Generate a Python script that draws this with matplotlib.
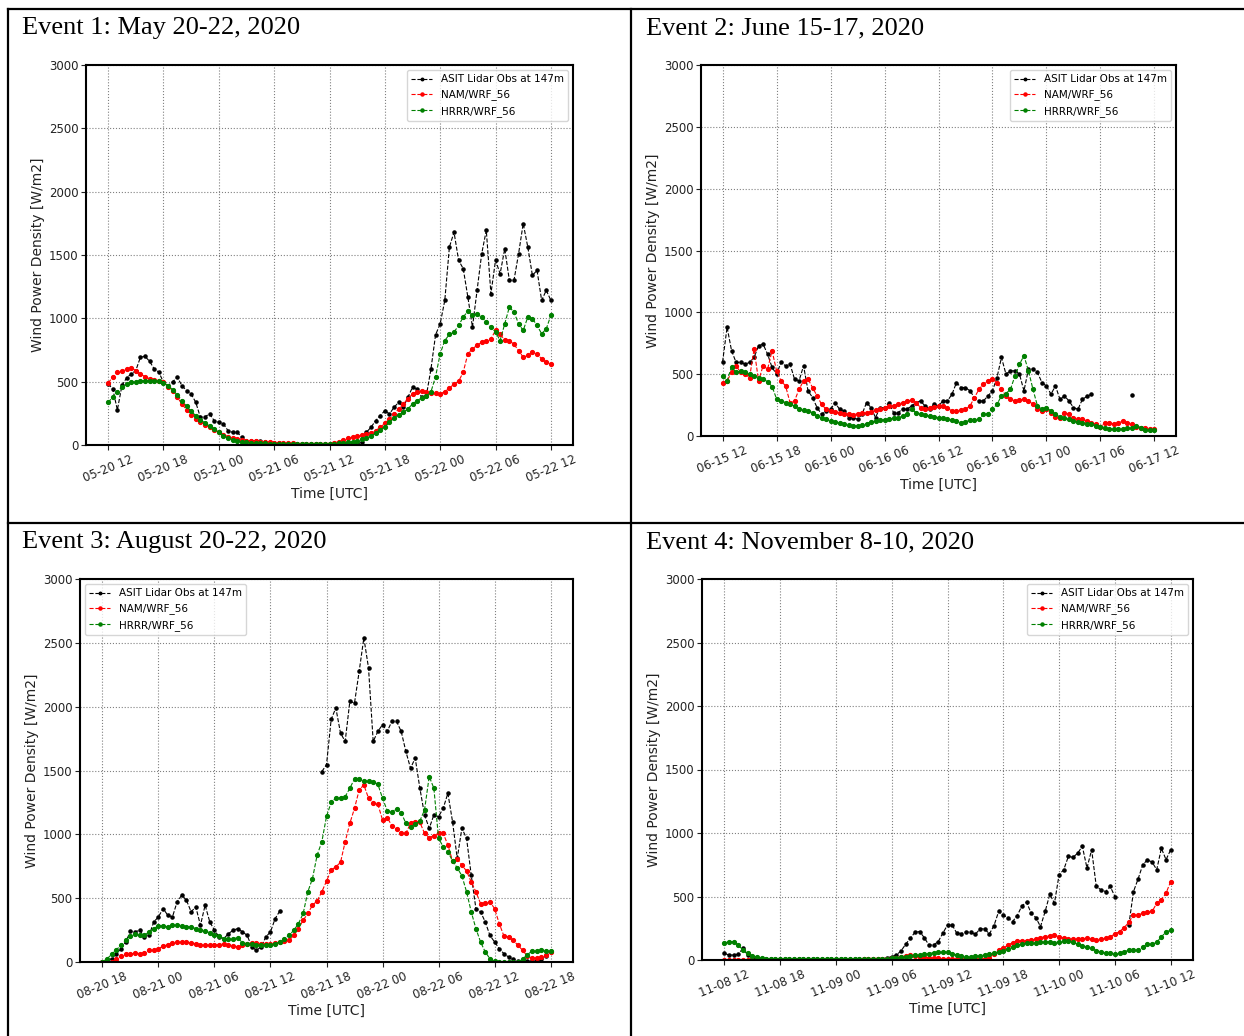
import numpy as np
import pandas as pd
import matplotlib
matplotlib.use("Agg")
import matplotlib.pyplot as plt
import matplotlib.dates as mdates
from matplotlib.lines import Line2D

nan = float("nan")

# ---------------- data (30-min resolution, 0h .. 48h) ----------------
event_titles = ["Event 1: May 20-22, 2020", "Event 2: June 15-17, 2020",
                "Event 3: August 20-22, 2020", "Event 4: November 8-10, 2020"]
event_starts = ["2020-05-20 12:00", "2020-06-15 12:00", "2020-08-20 18:00", "2020-11-08 12:00"]
series_labels = ["ASIT Lidar Obs at 147m", "NAM/WRF_56", "HRRR/WRF_56"]

e1_obs = [483, 443, 277, 470, 530, 561, 588, 693, 700, 660, 600, 575,
          495, 469, 500, 535, 469, 430, 403, 337, 219, 224, 245, 192,
          179, 166, 113, 100, 100, 61, 34, 34, 34, 28, 21, 18,
          14, 12, 10, 10, 9, 9, 8, 8, 8, 8, 8, 8,
          8, 8, 8, 8, 8, 10, 10, 20, 100, 140, 192, 232,
          271, 245, 298, 337, 298, 377, 456, 443, 377, 390, 600, 870,
          957, 1142, 1563, 1680, 1458, 1392, 1168, 931, 1221, 1510, 1695, 1194,
          1458, 1352, 1550, 1300, 1300, 1510, 1748, 1563, 1339, 1379, 1142, 1221,
          1142]
e1_nam = [490, 535, 575, 583, 600, 610, 588, 560, 540, 522, 510, 503,
          495, 461, 430, 377, 324, 277, 237, 205, 180, 158, 140, 119,
          100, 82, 66, 53, 45, 37, 34, 31, 29, 26, 24, 21,
          18, 16, 14, 13, 12, 11, 10, 10, 10, 10, 10, 10,
          10, 16, 26, 40, 53, 60, 68, 76, 87, 98, 113, 140,
          171, 205, 245, 285, 324, 364, 403, 422, 424, 417, 411, 409,
          403, 422, 448, 482, 503, 575, 720, 760, 786, 812, 825, 838,
          904, 873, 831, 825, 794, 746, 693, 707, 733, 720, 680, 654,
          641]
e1_hrrr = [337, 377, 422, 456, 482, 496, 501, 506, 509, 509, 509, 504,
           493, 469, 435, 395, 351, 306, 266, 232, 200, 174, 150, 127,
           100, 74, 53, 40, 29, 24, 21, 18, 16, 14, 13, 11,
           8, 8, 8, 8, 8, 8, 8, 8, 8, 8, 8, 8,
           8, 9, 12, 16, 21, 27, 34, 44, 55, 71, 92, 119,
           145, 179, 213, 240, 258, 285, 324, 350, 372, 383, 420, 540,
           720, 825, 873, 891, 944, 1010, 1057, 1023, 1031, 1010, 970, 931,
           891, 825, 957, 1089, 1049, 957, 904, 1010, 997, 944, 878, 917,
           1023]

e2_obs = [600, 880, 689, 595, 595, 581, 595, 635, 730, 743, 662, 554,
          500, 595, 568, 581, 459, 446, 568, 365, 311, 230, 176, 203,
          216, 270, 216, 203, 149, 149, 135, 176, 270, 230, 149, 230,
          230, 270, 189, 189, 216, 216, 243, 270, 284, 243, 216, 257,
          243, 284, 284, 338, 432, 392, 392, 365, 311, 284, 284, 324,
          365, 473, 635, 500, 527, 527, 500, 365, 541, 541, 514, 432,
          405, 338, 405, 297, 324, 284, 230, 216, 297, 320, 338, nan,
          nan, nan, nan, nan, nan, nan, nan, 330, nan, nan, nan, nan,
          nan]
e2_nam = [432, 446, 514, 568, 514, 500, 473, 703, 446, 568, 541, 689,
          527, 446, 405, 270, 284, 378, 446, 459, 392, 324, 257, 216,
          203, 197, 189, 181, 176, 170, 181, 189, 189, 195, 208, 222,
          230, 243, 243, 257, 270, 284, 289, 270, 230, 216, 224, 235,
          243, 243, 224, 203, 203, 208, 216, 243, 311, 378, 419, 446,
          459, 432, 378, 324, 297, 284, 289, 297, 284, 257, 216, 203,
          216, 189, 154, 143, 189, 176, 149, 135, 135, 122, 108, 95,
          76, 108, 108, 95, 108, 122, 108, 95, 73, 68, 62, 54,
          54]
e2_hrrr = [486, 446, 560, 514, 527, 514, 500, 486, 473, 459, 440, 400,
           300, 285, 270, 257, 243, 222, 208, 203, 189, 162, 149, 135,
           122, 116, 103, 95, 86, 81, 81, 89, 100, 114, 122, 127,
           132, 138, 143, 149, 159, 176, 216, 189, 176, 168, 159, 154,
           149, 143, 135, 127, 122, 108, 116, 127, 127, 135, 176, 181,
           216, 257, 324, 343, 378, 486, 581, 649, 527, 378, 243, 216,
           230, 203, 176, 154, 143, 135, 122, 114, 108, 100, 95, 84,
           76, 68, 59, 54, 54, 54, 62, 68, 81, 68, 49, 46,
           46]

e3_obs = [0, 13, 26, 65, 105, 157, 240, 236, 249, 196, 209, 314,
          353, 419, 366, 353, 471, 524, 484, 393, 432, 288, 445, 314,
          249, 196, 183, 222, 249, 262, 236, 209, 118, 92, 118, 196,
          236, 340, 400, nan, nan, nan, nan, nan, nan, nan, nan, 1492,
          1545, 1900, 1990, 1793, 1728, 2042, 2029, 2277, 2539, 2304, 1728, 1806,
          1859, 1806, 1885, 1885, 1806, 1649, 1518, 1597, 1361, 1152, 1047, 1152,
          1139, 1204, 1322, 1099, 812, 1047, 969, 681, 419, 393, 314, 209,
          157, 105, 65, 39, 21, 10, 5, 5, 8, 12, 20, 45,
          79]
e3_nam = [0, 0, 3, 25, 45, 60, 65, 68, 66, 72, 92, 92,
          105, 123, 136, 149, 157, 157, 155, 149, 144, 136, 131, 131,
          131, 136, 144, 136, 126, 118, 131, 144, 149, 147, 144, 141,
          144, 149, 157, 162, 170, 209, 262, 327, 380, 445, 479, 550,
          634, 720, 746, 780, 942, 1086, 1204, 1348, 1387, 1283, 1243, 1236,
          1113, 1131, 1068, 1042, 1008, 1008, 1086, 1099, 1094, 1008, 974, 990,
          1008, 1008, 916, 791, 806, 759, 712, 628, 550, 458, 461, 471,
          419, 301, 204, 196, 170, 131, 92, 47, 31, 31, 39, 52,
          79]
e3_hrrr = [0, 26, 60, 97, 131, 170, 204, 223, 215, 209, 236, 262,
           283, 283, 275, 288, 293, 283, 275, 275, 262, 254, 241, 230,
           215, 202, 183, 178, 183, 190, 149, 144, 141, 136, 131, 131,
           136, 144, 157, 183, 209, 249, 301, 380, 550, 654, 838, 942,
           1140, 1251, 1283, 1288, 1296, 1361, 1435, 1432, 1421, 1414, 1411, 1393,
           1283, 1186, 1178, 1199, 1170, 1086, 1055, 1081, 1105, 1191, 1453, 1361,
           969, 903, 864, 791, 738, 675, 550, 393, 262, 157, 79, 26,
           5, 0, 0, 0, 0, 0, 21, 58, 84, 84, 92, 86,
           84]

e4_obs = [53, 39, 39, 45, 92, 39, 18, 10, 5, 5, 5, 5,
          5, 5, 5, 5, 5, 5, 5, 5, 5, 5, 5, 5,
          5, 5, 5, 5, 5, 5, 5, 5, 5, 5, 10, 18,
          26, 39, 71, 124, 171, 218, 224, 176, 118, 118, 145, 211,
          276, 276, 211, 208, 221, 218, 203, 245, 245, 205, 271, 382,
          355, 329, 303, 350, 426, 455, 368, 334, 263, 382, 518, 447,
          671, 711, 816, 808, 842, 895, 724, 868, 579, 553, 539, 579,
          500, nan, nan, 276, 539, 639, 750, 789, 771, 711, 880, 790,
          868]
e4_nam = [3, 3, 3, 3, 3, 3, 3, 3, 3, 3, 3, 3,
          3, 3, 3, 3, 3, 3, 3, 3, 3, 3, 3, 3,
          3, 3, 3, 3, 3, 3, 4, 4, 5, 6, 8, 10,
          13, 18, 24, 32, 39, 35, 26, 21, 18, 15, 13, 10,
          8, 6, 5, 5, 5, 5, 5, 5, 8, 18, 47, 79,
          92, 118, 137, 150, 153, 153, 155, 163, 176, 184, 192, 197,
          184, 171, 163, 163, 166, 168, 171, 166, 158, 166, 171, 184,
          205, 224, 255, 297, 355, 355, 368, 376, 382, 447, 474, 526,
          618]
e4_hrrr = [132, 145, 145, 118, 79, 53, 34, 24, 16, 8, 5, 5,
           5, 5, 5, 5, 5, 5, 5, 5, 5, 5, 5, 5,
           5, 5, 5, 5, 5, 5, 5, 5, 5, 5, 5, 8,
           13, 18, 21, 26, 32, 37, 39, 45, 50, 58, 63, 66,
           63, 50, 39, 29, 26, 26, 29, 34, 39, 45, 53, 66,
           74, 84, 103, 116, 129, 132, 132, 134, 142, 145, 145, 137,
           145, 150, 147, 139, 124, 111, 100, 92, 74, 63, 53, 53,
           47, 53, 66, 76, 79, 79, 105, 124, 124, 139, 184, 218,
           237]

events = [(e1_obs, e1_nam, e1_hrrr), (e2_obs, e2_nam, e2_hrrr),
          (e3_obs, e3_nam, e3_hrrr), (e4_obs, e4_nam, e4_hrrr)]

# ---------------- layout ----------------
W, H = 1244, 1036
fig = plt.figure(figsize=(W / 100, H / 100), dpi=100)

def fx(px):
    return px / W

def fy(py):
    return 1 - py / H

# axes boxes in pixels: left, top, right, bottom
boxes = [(86, 65, 573, 445), (701, 65, 1176, 436),
         (80, 579, 573, 962), (702, 579, 1193, 960)]
title_pos = [(22, 34), (646, 34), (22, 548), (646, 548)]
legend_loc = ["upper right", "upper right", "upper left", "upper right"]
colors = ["black", "red", "green"]

for i, (obs, nam, hrrr) in enumerate(events):
    l, t, r, b = boxes[i]
    ax = fig.add_axes([fx(l), fy(b), fx(r - l), (b - t) / H])
    x = pd.date_range(event_starts[i], periods=len(obs), freq="30min")
    for vals, c, lab, ms in zip((obs, nam, hrrr), colors, series_labels, (4.5, 5.5, 5.5)):
        ax.plot(x, np.array(vals, dtype=float), linestyle="--", marker=".",
                color=c, lw=0.8, ms=ms, label=lab)
    ax.set_ylim(0, 3000)
    ax.set_yticks(np.arange(0, 3001, 500))
    ax.xaxis.set_major_locator(mdates.HourLocator(byhour=[0, 6, 12, 18]))
    ax.xaxis.set_major_formatter(mdates.DateFormatter("%m-%d %H"))
    ax.grid(True, linestyle=":", color="gray", linewidth=0.8)
    ax.tick_params(labelsize=8.5, colors="#222222", pad=2)
    for lab in ax.get_xticklabels():
        lab.set_rotation(22)
        lab.set_ha("center")
    for sp in ax.spines.values():
        sp.set_linewidth(1.5)
    ax.set_xlabel("Time [UTC]", fontsize=10, color="#222222", labelpad=2)
    ax.set_ylabel("Wind Power Density [W/m2]", fontsize=10, color="#222222", labelpad=3)
    ax.legend(loc=legend_loc[i], fontsize=7.5, markerscale=0.8)
    tx, ty = title_pos[i]
    fig.text(fx(tx), fy(ty), event_titles[i], family="Liberation Serif",
             fontsize=19, va="baseline", ha="left")

# table borders
def hline(y, x0, x1):
    fig.add_artist(Line2D([fx(x0), fx(x1)], [fy(y), fy(y)], color="black", lw=1.6))

def vline(x, y0, y1):
    fig.add_artist(Line2D([fx(x), fx(x)], [fy(y0), fy(y1)], color="black", lw=1.6))

hline(9, 8, 1244)
hline(523, 8, 1244)
vline(8, 9, 1036)
vline(631, 9, 1036)

fig.savefig("out.png", dpi=100)
